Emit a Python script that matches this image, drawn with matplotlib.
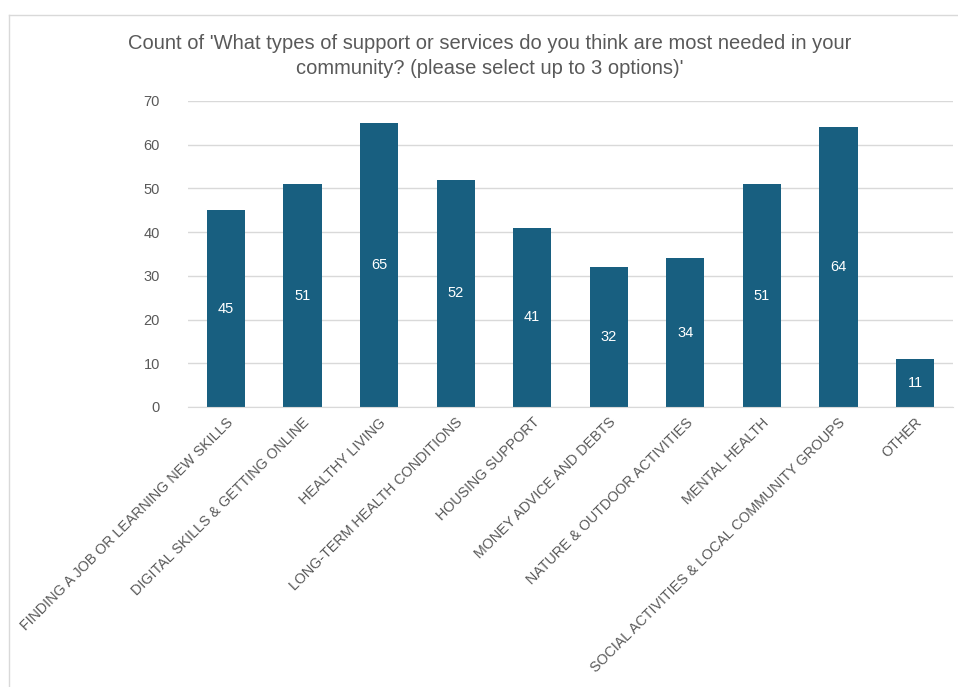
import matplotlib.pyplot as plt
import numpy as np
from matplotlib.lines import Line2D

# =========================
# Data
# =========================

categories = [
    "FINDING A JOB OR LEARNING NEW SKILLS",
    "DIGITAL SKILLS & GETTING ONLINE",
    "HEALTHY LIVING",
    "LONG-TERM HEALTH CONDITIONS",
    "HOUSING SUPPORT",
    "MONEY ADVICE AND DEBTS",
    "NATURE & OUTDOOR ACTIVITIES",
    "MENTAL HEALTH",
    "SOCIAL ACTIVITIES & LOCAL COMMUNITY GROUPS",
    "OTHER",
]
counts = [45, 51, 65, 52, 41, 32, 34, 51, 64, 11]
y_ticks = [0, 10, 20, 30, 40, 50, 60, 70]

title = ("Count of 'What types of support or services do you think are most needed in your\n"
         "community? (please select up to 3 options)'")

bar_color = "#185f80"
text_gray = "#595959"
grid_gray = "#d9d9d9"

plt.rcParams["font.family"] = ["Liberation Sans", "DejaVu Sans"]

fig = plt.figure(figsize=(9.58, 6.87), dpi=100)
ax = fig.add_axes([0.196, 0.4076, 0.799, 0.4454])

x = np.arange(len(categories))
bars = ax.bar(x, counts, width=0.5, color=bar_color, zorder=3)

# value labels in the middle of each bar
for rect, val in zip(bars, counts):
    ax.text(rect.get_x() + rect.get_width() / 2, val / 2, str(val),
            ha="center", va="center", color="white", fontsize=10.5)

ax.set_xlim(-0.5, len(categories) - 0.5)
ax.set_ylim(0, 70)
ax.set_yticks(y_ticks)
ax.set_xticks(x)
ax.set_xticklabels(categories, rotation=45, ha="right", rotation_mode="anchor",
                   fontsize=10.3, color=text_gray)
ax.tick_params(axis="y", labelsize=10.5, labelcolor=text_gray, length=0, pad=20)
ax.tick_params(axis="x", length=0, pad=6)

ax.grid(axis="y", color=grid_gray, linewidth=1, zorder=0)
for side in ["top", "right", "left"]:
    ax.spines[side].set_visible(False)
ax.spines["bottom"].set_color(grid_gray)
ax.spines["bottom"].set_zorder(4)

fig.text(0.511, 0.951, title, ha="center", va="top", fontsize=14.5,
         color=text_gray, linespacing=1.42)

# chart frame
fig.add_artist(Line2D([8.5 / 958, 8.5 / 958], [0, 1 - 15 / 687],
                      color=grid_gray, linewidth=1, transform=fig.transFigure))
fig.add_artist(Line2D([8.5 / 958, 1], [1 - 15 / 687, 1 - 15 / 687],
                      color=grid_gray, linewidth=1, transform=fig.transFigure))

plt.savefig("out.png", dpi=100)
